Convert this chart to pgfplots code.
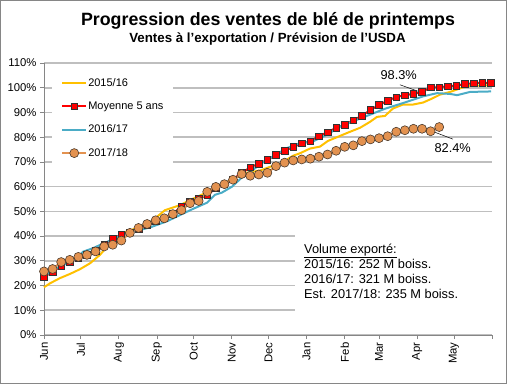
\documentclass[border=0pt]{standalone}
\usepackage{fontspec}
\setmainfont{Liberation Sans}
\usepackage{pgfplots}
\pgfplotsset{compat=1.18}
\definecolor{cyel}{HTML}{FFC000}
\definecolor{cred}{HTML}{FF0000}
\definecolor{cteal}{HTML}{4BACC6}
\definecolor{corg}{HTML}{E39250}
\definecolor{cgrid}{HTML}{BFBFBF}
\definecolor{caxis}{HTML}{868686}
\definecolor{cedge}{HTML}{4A3A2C}
\begin{document}
\begin{tikzpicture}
\useasboundingbox (0pt,0pt) rectangle (507pt,384pt);
\draw[caxis, line width=0.8pt] (0.5pt,0.5pt) rectangle (506.5pt,383.5pt);
\node[font=\bfseries\fontsize{17.8}{20}\selectfont] at (268pt,363.5pt) {Progression des ventes de blé de printemps};
\node[font=\bfseries\fontsize{13.3}{15}\selectfont] at (267.5pt,344.5pt) {Ventes à l'exportation / Prévision de l'USDA};
\begin{axis}[
  at={(44pt,49pt)}, anchor=south west, scale only axis,
  width=448pt, height=272pt,
  xmin=0, xmax=365, ymin=0, ymax=110,
  axis x line*=bottom, axis y line*=left,
  axis line style={-, caxis, line width=0.8pt},
  ytick={0,10,...,110},
  yticklabel={\pgfmathprintnumber{\tick}\%},
  xtick={0,30,61,92,122,153,183,214,245,273,304,334,365},
  xticklabels={Jun,Jul,Aug,Sep,Oct,Nov,Dec,Jan,Feb,Mar,Apr,May,{}},
  xticklabel style={rotate=90, anchor=east},
  tick align=outside, major tick length=4pt,
  tick style={caxis, line width=0.8pt},
  ymajorgrids, grid style={cgrid, line width=1.6pt},
  ticklabel style={font=\fontsize{11.3}{13}\selectfont},
  /pgf/number format/assume math mode=true,
  clip=false,
  legend cell align=left,
  legend style={at={(0.018,0.97)}, anchor=north west, draw=none, fill=white,
    font=\fontsize{11}{13}\selectfont, row sep=10pt, inner xsep=9pt, inner ysep=5pt,
    nodes={inner xsep=1pt}},
  legend image code/.code={\draw[mark repeat=2,mark phase=2,#1] plot coordinates {(0pt,0pt) (12pt,0pt) (24pt,0pt)};},
]
\addplot[cyel, line width=2pt] coordinates {
(0,19.3)(4.9,20.9)(13,23)(21.2,24.7)(29.3,26.6)(37.5,29)(45.6,32.4)(51.3,35.7)(57.8,38.5)(66,41.5)(78.2,43.8)(86.4,45.5)(98.6,50.5)(110.8,52.5)(123,55.5)(132,57.5)(151.5,62.5)(163.8,65.5)(176,66.5)(184.1,68)(192.3,69.2)(202.9,72.5)(208.6,73.5)(216.7,75.4)(224.9,76.2)(231.4,78.5)(238.7,80)(246.9,81.7)(257.5,83.8)(265.6,86.2)(271.3,88.2)(277.8,88.6)(284.3,91.6)(292.5,93.2)(300.6,93.2)(308.8,94)(316.1,95.6)(322.6,97.2)(330.8,98.3)(340.6,100)(347.1,100.8)(364.2,101)
};
\addlegendentry{2015/16}
\addplot[cred, line width=2pt, mark=square*, mark size=3.3pt, mark options={fill=cred, draw=black!80, line width=0.6pt}] coordinates {
(0,23.5)(7,25.5)(14,28)(21,29.5)(28,31)(35,32.5)(42,34)(49,36.5)(56,39)(63,40.5)(70,41.5)(77,43)(84,44.5)(91,46)(98,47.2)(105,49)(112,52)(119,54)(126,55)(133,56.5)(140,59.5)(147,61)(154,63)(161,65.5)(168,67.8)(175,69.3)(182,70.8)(189,72.8)(196,74.4)(203,76)(210,77.5)(217,78.4)(224,80.4)(231,82)(238,83.8)(245,85)(252,86.8)(259,88.7)(266,91)(273,93)(280,94.8)(287,96.2)(294,97)(301,97.5)(308,98.3)(315,100.1)(322,100.2)(329,100.6)(336,100.9)(343,101.5)(350,101.8)(357,102.1)(364,101.9)
};
\addlegendentry{Moyenne 5 ans}
\addplot[cteal, line width=2pt] coordinates {
(0,23.6)(7.3,26.3)(15.5,28.3)(26.9,31)(31.8,33.7)(39.9,35.1)(47.3,36.8)(55.4,38.5)(66,41)(78.2,42.5)(86.4,43.5)(100.2,46)(110.8,48.5)(121.4,51)(132.8,53.5)(139.3,56.7)(145,57.6)(153.2,60)(162.1,64.1)(170.3,66.8)(176,69)(184.1,71.5)(198,75.6)(208.6,77.6)(219.2,78.3)(230.6,81)(241.3,84.3)(251.7,86.4)(265.6,89.1)(277.8,91.5)(292.5,93.8)(308.8,96.5)(320.2,97.8)(330.8,97.5)(336.5,97)(347.1,98.3)(364.2,98.5)
};
\addlegendentry{2016/17}
\addplot[corg, line width=2pt, mark=*, mark size=4.5pt, mark options={fill=corg, draw=cedge, line width=0.6pt}] coordinates {
(0,25.7)(7,26.7)(14,29.5)(21,30.4)(28,31.6)(35,32.4)(42,33.8)(49,35.8)(56,36.5)(63,38.2)(70,41.3)(77,43.3)(84,44.9)(91,46.4)(98,47.2)(105,48.9)(112,50.5)(119,53.3)(126,54.2)(133,57.9)(140,59.9)(147,61)(154,62.8)(161,65.1)(168,64.4)(175,64.9)(182,65.6)(189,68.3)(196,69.7)(203,70.6)(210,71)(217,71.3)(224,72.1)(231,73)(238,74.5)(245,76.1)(252,76.7)(259,78.4)(266,79.1)(273,79.6)(280,80.4)(287,82.2)(294,82.8)(301,83.4)(308,83.4)(315,82.4)(322,84.1)
};
\addlegendentry{2017/18}
\draw[black, line width=0.5pt] (axis cs:290,101.2) -- (axis cs:306.3,98.3);
\node[font=\fontsize{12.8}{14}\selectfont] at (axis cs:289,105.3) {98.3\%};
\draw[black, line width=0.5pt] (axis cs:315.3,82.6) -- (axis cs:333.2,79.2);
\node[font=\fontsize{12.8}{14}\selectfont] at (axis cs:333,75.5) {82.4\%};
\end{axis}
\fill[white] (295pt,66pt) rectangle (492pt,159pt);
\begin{scope}[every node/.style={anchor=base west, inner sep=0pt, font=\fontsize{12.8}{14}\selectfont}]
\node at (304pt,131pt) {\underline{Volume exporté:}};
\node at (304pt,116pt) {2015/16: 252 M boiss.};
\node at (304pt,101pt) {2016/17: 321 M boiss.};
\node at (304pt,86pt) {Est. 2017/18: 235 M boiss.};
\end{scope}
\end{tikzpicture}
\end{document}
